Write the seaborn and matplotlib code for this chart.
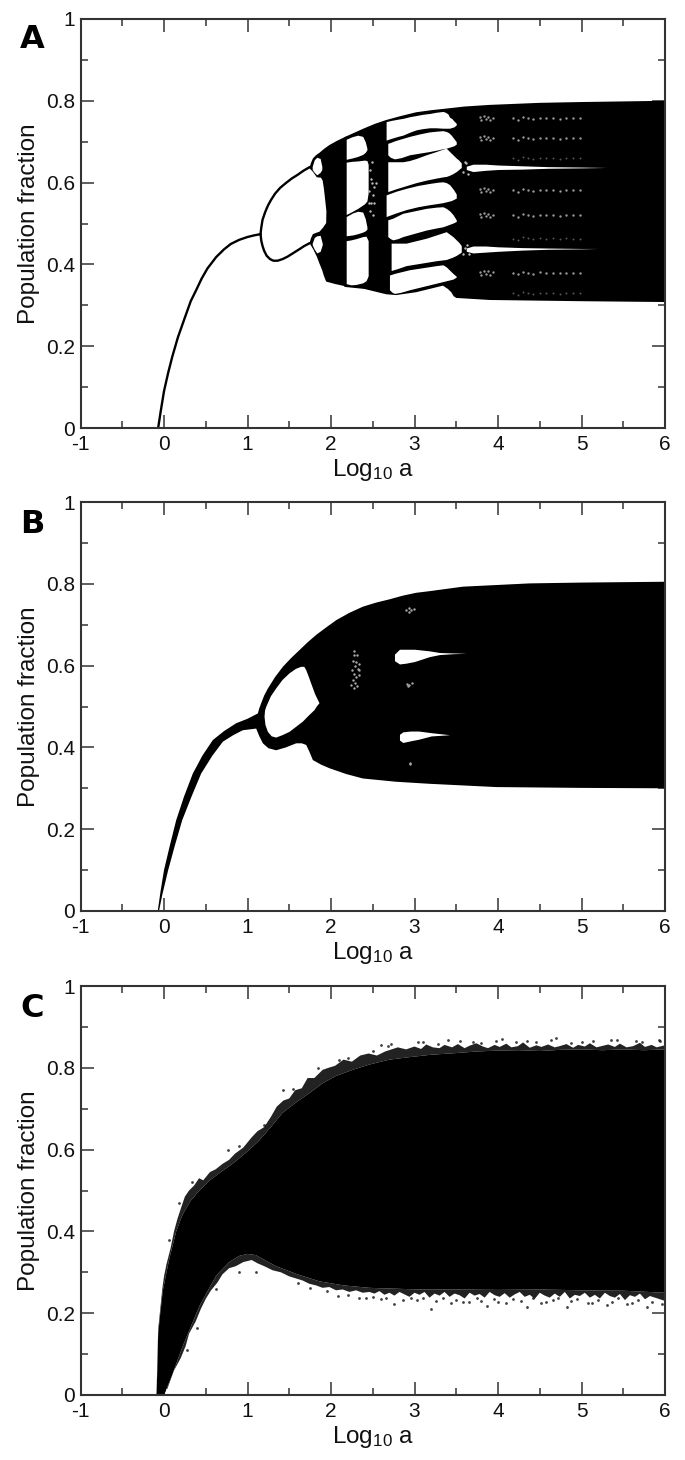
import matplotlib
matplotlib.use("Agg")
import matplotlib.pyplot as plt
import seaborn as sns

sns.set_style("ticks")
plt.rcParams['font.family'] = ['Liberation Sans', 'DejaVu Sans']
plt.rcParams['mathtext.default'] = 'regular'

X_TICKS = [-1, 0, 1, 2, 3, 4, 5, 6]
X_LABELS = ['-1', '0', '1', '2', '3', '4', '5', '6']
Y_TICKS = [0, 0.2, 0.4, 0.6, 0.8, 1]
Y_LABELS = ['0', '0.2', '0.4', '0.6', '0.8', '1']
PANELS = ['A', 'B', 'C']

# ---------- Panel A: branches ----------
a_p1_x = [-0.07, -0.04, 0.0, 0.05, 0.1, 0.167, 0.25, 0.32, 0.385, 0.45, 0.52, 0.625, 0.72, 0.8, 0.9, 1.0, 1.08, 1.156]
a_p1_y = [0.0, 0.04, 0.09, 0.135, 0.175, 0.222, 0.27, 0.31, 0.337, 0.365, 0.39, 0.418, 0.437, 0.45, 0.46, 0.467, 0.471, 0.474]
a_up_x = [1.156, 1.165, 1.18, 1.21, 1.245, 1.28, 1.33, 1.39, 1.46, 1.53, 1.6, 1.67, 1.745]
a_up_y = [0.474, 0.49, 0.509, 0.527, 0.544, 0.557, 0.573, 0.587, 0.599, 0.61, 0.619, 0.629, 0.638]
a_lo_x = [1.156, 1.165, 1.18, 1.2, 1.23, 1.27, 1.31, 1.36, 1.42, 1.48, 1.55, 1.62, 1.68, 1.745]
a_lo_y = [0.474, 0.458, 0.445, 0.433, 0.421, 0.413, 0.409, 0.409, 0.413, 0.419, 0.428, 0.437, 0.445, 0.452]

# chaotic block left of the first window
a_block_x = [1.743, 1.76, 1.783, 1.82, 1.862, 1.92, 1.982, 2.07, 2.162, 2.19, 2.19, 2.162, 2.05, 1.942, 1.915, 1.894, 1.86, 1.83, 1.79, 1.743,
             1.76, 1.783, 1.82, 1.862, 1.905, 1.942, 1.945, 1.93, 1.915, 1.90, 1.88, 1.83, 1.785, 1.743]
a_block_y = [0.637, 0.648, 0.659, 0.667, 0.673, 0.683, 0.692, 0.702, 0.711, 0.713, 0.345, 0.347, 0.352, 0.358, 0.372, 0.386, 0.403, 0.419, 0.436, 0.452,
             0.464, 0.474, 0.477, 0.48, 0.49, 0.501, 0.53, 0.558, 0.585, 0.605, 0.612, 0.613, 0.626, 0.635]

# outer envelope for the rest
a_env_x = [2.16, 2.28, 2.4, 2.53, 2.66, 2.84, 3.02, 3.2, 3.38, 3.6, 3.9, 4.5, 5.0, 6.0]
a_env_hi = [0.711, 0.722, 0.733, 0.744, 0.753, 0.763, 0.772, 0.777, 0.781, 0.786, 0.790, 0.795, 0.797, 0.800]
a_low_x = [2.16, 2.4, 2.66, 2.78, 3.02, 3.34, 3.40, 3.44, 3.47, 3.5, 3.9, 5.0, 6.0]
a_low_y = [0.345, 0.340, 0.327, 0.325, 0.332, 0.348, 0.340, 0.332, 0.322, 0.318, 0.313, 0.310, 0.308]

# white windows: (x, low, high)
a_holes = [
    ([1.775, 1.80, 1.83, 1.87, 1.89], [0.632, 0.625, 0.619, 0.625, 0.632], [0.640, 0.656, 0.662, 0.659, 0.640]),
    ([1.775, 1.80, 1.83, 1.87, 1.895], [0.448, 0.437, 0.428, 0.432, 0.448], [0.452, 0.466, 0.470, 0.471, 0.452]),
    ([2.182, 2.25, 2.32, 2.38, 2.41, 2.43], [0.657, 0.660, 0.664, 0.669, 0.674, 0.680], [0.706, 0.712, 0.716, 0.713, 0.70, 0.684]),
    ([2.182, 2.25, 2.32, 2.40, 2.43, 2.445], [0.522, 0.529, 0.537, 0.548, 0.555, 0.575], [0.650, 0.652, 0.653, 0.655, 0.654, 0.645]),
    ([2.182, 2.26, 2.32, 2.38, 2.41, 2.43], [0.470, 0.472, 0.475, 0.479, 0.482, 0.486], [0.517, 0.526, 0.530, 0.528, 0.512, 0.492]),
    ([2.182, 2.24, 2.30, 2.38, 2.42, 2.445], [0.353, 0.350, 0.351, 0.355, 0.36, 0.372], [0.458, 0.460, 0.463, 0.468, 0.469, 0.458]),
    ([2.66, 2.72, 2.80, 2.86, 2.94, 3.02, 3.10, 3.18, 3.26, 3.34, 3.37, 3.40, 3.42, 3.45, 3.47, 3.50],
     [0.704, 0.708, 0.713, 0.716, 0.723, 0.729, 0.732, 0.734, 0.734, 0.733, 0.733, 0.733, 0.733, 0.735, 0.736, 0.741],
     [0.749, 0.752, 0.755, 0.757, 0.761, 0.764, 0.767, 0.769, 0.772, 0.774, 0.772, 0.768, 0.760, 0.756, 0.751, 0.745]),
    ([2.68, 2.71, 2.76, 2.84, 2.94, 3.06, 3.18, 3.28, 3.34, 3.38, 3.41, 3.44, 3.47, 3.50],
     [0.668, 0.662, 0.658, 0.661, 0.668, 0.672, 0.676, 0.680, 0.683, 0.684, 0.686, 0.688, 0.690, 0.694],
     [0.696, 0.698, 0.702, 0.707, 0.713, 0.719, 0.724, 0.726, 0.727, 0.725, 0.722, 0.716, 0.708, 0.700]),
    ([2.68, 2.78, 2.86, 2.94, 3.02, 3.14, 3.26, 3.34, 3.38, 3.42, 3.46, 3.50, 3.53, 3.56],
     [0.578, 0.585, 0.590, 0.595, 0.600, 0.606, 0.611, 0.614, 0.615, 0.618, 0.622, 0.627, 0.632, 0.637],
     [0.651, 0.651, 0.651, 0.654, 0.659, 0.668, 0.676, 0.682, 0.684, 0.676, 0.668, 0.660, 0.655, 0.648]),
    ([2.66, 2.78, 2.90, 3.04, 3.18, 3.28, 3.34, 3.38, 3.42, 3.44, 3.47, 3.50],
     [0.517, 0.526, 0.534, 0.541, 0.546, 0.549, 0.551, 0.553, 0.555, 0.556, 0.559, 0.562],
     [0.570, 0.579, 0.586, 0.593, 0.598, 0.601, 0.602, 0.600, 0.595, 0.590, 0.582, 0.572]),
    ([2.68, 2.71, 2.74, 2.80, 2.86, 3.0, 3.14, 3.26, 3.34, 3.38, 3.42, 3.46, 3.50],
     [0.468, 0.463, 0.460, 0.463, 0.468, 0.476, 0.484, 0.489, 0.492, 0.495, 0.498, 0.501, 0.505],
     [0.509, 0.511, 0.513, 0.519, 0.525, 0.531, 0.537, 0.540, 0.541, 0.537, 0.531, 0.522, 0.509]),
    ([2.72, 2.80, 2.90, 3.02, 3.14, 3.26, 3.38, 3.42, 3.46, 3.50, 3.53, 3.56],
     [0.385, 0.390, 0.397, 0.401, 0.405, 0.409, 0.412, 0.415, 0.418, 0.422, 0.426, 0.430],
     [0.452, 0.452, 0.452, 0.458, 0.464, 0.472, 0.480, 0.474, 0.468, 0.460, 0.454, 0.446]),
    ([2.70, 2.73, 2.76, 2.84, 2.94, 3.1, 3.26, 3.34, 3.38, 3.42, 3.46, 3.50],
     [0.338, 0.332, 0.329, 0.332, 0.338, 0.346, 0.354, 0.358, 0.360, 0.362, 0.364, 0.369],
     [0.374, 0.376, 0.378, 0.382, 0.387, 0.392, 0.397, 0.399, 0.394, 0.386, 0.378, 0.371]),
    ([3.62, 3.70, 3.85, 4.0, 4.3, 4.6, 5.0, 5.3],
     [0.632, 0.627, 0.630, 0.632, 0.633, 0.635, 0.636, 0.637],
     [0.640, 0.645, 0.645, 0.643, 0.641, 0.639, 0.638, 0.637]),
    ([3.62, 3.70, 3.85, 4.0, 4.3, 4.6, 5.0, 5.2],
     [0.432, 0.428, 0.430, 0.432, 0.435, 0.437, 0.438, 0.439],
     [0.440, 0.445, 0.445, 0.443, 0.441, 0.440, 0.439, 0.439]),
]

# white speckles in panel A
a_dust_x = [3.78, 3.80, 3.83, 3.86, 3.88, 3.91, 3.94, 4.18, 4.24, 4.30, 4.36, 4.42, 4.50, 4.58, 4.66, 4.74, 4.82, 4.90, 4.98]
a_dust_dy = [0.003, -0.005, 0.006, -0.002, 0.004, -0.004, 0.002, 0.0, -0.003, 0.003, 0.001, -0.002, 0.002, 0.0, 0.001, -0.001, 0.001, 0.0, 0.0]
a_dust_rows = [0.757, 0.708, 0.581, 0.520, 0.379]
a_faint_rows = [0.659, 0.463, 0.329]
a_sp_x = [2.47, 2.49, 2.46, 2.50, 2.48, 2.52, 2.47, 2.50, 2.54, 2.48, 2.51, 2.46, 2.49, 3.60, 3.64, 3.58, 3.62, 3.60, 3.65, 3.58, 3.63]
a_sp_y = [0.63, 0.60, 0.58, 0.57, 0.55, 0.59, 0.53, 0.52, 0.60, 0.61, 0.55, 0.55, 0.65, 0.650, 0.622, 0.625, 0.648, 0.440, 0.425, 0.425, 0.448]

# ---------- Panel B ----------
b_outer_x = [-0.075, -0.04, 0.0, 0.07, 0.146, 0.24, 0.345, 0.46, 0.585, 0.72, 0.864, 1.0, 1.124, 1.14, 1.164, 1.2, 1.244, 1.33, 1.423, 1.52, 1.623, 1.72, 1.822, 1.94, 2.062, 2.22, 2.381,
             2.54, 2.70, 2.86, 3.02, 3.18, 3.58, 4.38, 5.0, 6.0, 6.0, 5.0, 3.98, 3.18, 2.78, 2.381, 2.18, 1.982, 1.88, 1.783, 1.74, 1.703, 1.65, 1.583, 1.46,
             1.343, 1.25, 1.184, 1.14, 1.104, 0.944, 0.83, 0.705, 0.58, 0.445, 0.33, 0.218, 0.13, 0.05, -0.02, -0.06]
b_outer_y = [0.0, 0.05, 0.10, 0.16, 0.222, 0.28, 0.336, 0.38, 0.418, 0.44, 0.459, 0.47, 0.483, 0.495, 0.508, 0.527, 0.544, 0.572, 0.597, 0.618, 0.638, 0.657, 0.675, 0.693, 0.711, 0.729, 0.744,
             0.754, 0.762, 0.771, 0.778, 0.782, 0.793, 0.801, 0.803, 0.805, 0.300, 0.301, 0.303, 0.311, 0.316, 0.324, 0.335, 0.349, 0.358, 0.369, 0.39, 0.406, 0.41, 0.410, 0.40,
             0.393, 0.398, 0.410, 0.428, 0.446, 0.442, 0.43, 0.414, 0.38, 0.336, 0.28, 0.222, 0.16, 0.10, 0.04, 0.0]
b_hole_x = [1.204, 1.21, 1.224, 1.28, 1.343, 1.42, 1.503, 1.58, 1.643, 1.68, 1.703, 1.735, 1.763, 1.81, 1.862, 1.83, 1.802, 1.73, 1.663, 1.58, 1.503, 1.42, 1.343, 1.29, 1.244, 1.215]
b_hole_y = [0.475, 0.49, 0.499, 0.525, 0.544, 0.565, 0.581, 0.592, 0.597, 0.597, 0.589, 0.572, 0.556, 0.53, 0.508, 0.50, 0.491, 0.477, 0.463, 0.45, 0.438, 0.43, 0.424, 0.427, 0.438, 0.455]
b_streaks = [
    ([2.76, 2.82, 2.90, 3.0, 3.18, 3.3, 3.45, 3.62],
     [0.612, 0.604, 0.606, 0.610, 0.622, 0.627, 0.629, 0.630],
     [0.628, 0.640, 0.640, 0.640, 0.636, 0.632, 0.631, 0.630]),
    ([2.82, 2.86, 2.95, 3.05, 3.2, 3.42],
     [0.418, 0.412, 0.416, 0.420, 0.428, 0.431],
     [0.432, 0.438, 0.440, 0.440, 0.436, 0.431]),
]
b_dust_x = [2.28, 2.31, 2.26, 2.33, 2.29, 2.25, 2.32, 2.27, 2.30, 2.34, 2.26, 2.29, 2.24, 2.31, 2.28, 2.33, 2.30, 2.27,
            2.90, 2.93, 2.96, 2.94, 2.99, 2.91, 2.94, 2.97, 2.92, 2.95, 2.95]
b_dust_y = [0.635, 0.625, 0.612, 0.605, 0.600, 0.590, 0.592, 0.580, 0.572, 0.578, 0.565, 0.558, 0.552, 0.550, 0.625, 0.59, 0.61, 0.545,
            0.735, 0.741, 0.736, 0.731, 0.739, 0.556, 0.552, 0.558, 0.550, 0.362, 0.359]

# ---------- Panel C ----------
c_up_x = [-0.09, -0.08, -0.07, -0.05, -0.015, 0.03, 0.066, 0.146, 0.22, 0.32, 0.425, 0.55, 0.68, 0.82, 0.98, 1.14, 1.28, 1.42, 1.58, 1.74, 1.90, 2.06,
          2.26, 2.46, 2.70, 2.94, 3.2, 3.5, 3.75, 4.0, 4.25, 4.5, 4.75, 5.0, 5.25, 5.5, 5.75, 6.0]
c_up_y = [0.0, 0.06, 0.148, 0.19, 0.254, 0.30, 0.335, 0.400, 0.440, 0.475, 0.500, 0.525, 0.545, 0.565, 0.592, 0.622, 0.655, 0.690, 0.715, 0.738, 0.762, 0.780,
          0.795, 0.808, 0.820, 0.826, 0.832, 0.836, 0.840, 0.842, 0.843, 0.841, 0.844, 0.845, 0.843, 0.845, 0.843, 0.845]
c_lo_x = [-0.09, 0.0, 0.09, 0.225, 0.425, 0.625, 0.78, 0.90, 1.0, 1.1, 1.34, 1.6, 1.86, 2.15, 2.46, 3.06, 3.5, 4.0, 4.5, 5.0, 5.5, 6.0]
c_lo_y = [0.0, 0.0, 0.045, 0.120, 0.218, 0.292, 0.325, 0.340, 0.345, 0.342, 0.315, 0.295, 0.278, 0.268, 0.262, 0.258, 0.258, 0.257, 0.258, 0.256, 0.255, 0.250]

# rough outer edge of the dotted fringe
c_top_edge_x = [-0.07, -0.05, -0.02, 0.0, 0.03, 0.08, 0.12, 0.16, 0.2, 0.25, 0.3, 0.36, 0.42, 0.47, 0.55, 0.62, 0.7, 0.78, 0.85, 0.95,
                1.05, 1.12, 1.2, 1.28, 1.35, 1.43, 1.5, 1.57, 1.65, 1.72, 1.8, 1.9, 1.97, 2.05, 2.15, 2.25, 2.35, 2.45, 2.55, 2.65, 2.8, 2.9,
                3.0, 3.08, 3.14, 3.22, 3.3, 3.36, 3.45, 3.52, 3.6, 3.66, 3.74, 3.82, 3.88, 3.96, 4.02, 4.1, 4.16, 4.24, 4.3, 4.38, 4.46, 4.52,
                4.6, 4.68, 4.74, 4.82, 4.9, 4.96, 5.04, 5.1, 5.18, 5.26, 5.32, 5.4, 5.46, 5.54, 5.62, 5.7, 5.76, 5.84, 5.9, 6.0]
c_top_edge_y = [0.16, 0.20, 0.26, 0.29, 0.32, 0.36, 0.40, 0.43, 0.455, 0.485, 0.50, 0.512, 0.53, 0.525, 0.545, 0.552, 0.565, 0.575, 0.59, 0.605,
                0.63, 0.645, 0.655, 0.68, 0.705, 0.72, 0.725, 0.745, 0.75, 0.775, 0.775, 0.795, 0.80, 0.805, 0.82, 0.815, 0.83, 0.835, 0.83, 0.84, 0.85, 0.845,
                0.852, 0.846, 0.857, 0.85, 0.848, 0.856, 0.85, 0.858, 0.848, 0.854, 0.86, 0.852, 0.848, 0.856, 0.851, 0.859, 0.85, 0.853, 0.862, 0.849, 0.855, 0.851,
                0.857, 0.85, 0.853, 0.858, 0.849, 0.856, 0.852, 0.86, 0.85, 0.854, 0.857, 0.851, 0.859, 0.85, 0.853, 0.861, 0.851, 0.856, 0.85, 0.855]
c_bot_edge_x = [0.04, 0.12, 0.2, 0.26, 0.3, 0.38, 0.44, 0.5, 0.56, 0.64, 0.7, 0.78, 0.86, 0.95, 1.05, 1.12, 1.2, 1.3, 1.4, 1.5, 1.58, 1.66, 1.74, 1.82, 1.9, 1.98, 2.06, 2.14, 2.22, 2.3, 2.38, 2.46,
                2.52, 2.58, 2.64, 2.7, 2.76, 2.82, 2.88, 2.94, 3.0, 3.06, 3.12, 3.18, 3.24, 3.3, 3.36, 3.42, 3.48, 3.54, 3.6, 3.66, 3.72, 3.78, 3.84, 3.9, 3.96, 4.02, 4.08, 4.14,
                4.2, 4.26, 4.32, 4.38, 4.44, 4.5, 4.56, 4.62, 4.68, 4.74, 4.8, 4.86, 4.92, 4.98, 5.04, 5.1, 5.16, 5.22, 5.28, 5.34, 5.4, 5.46, 5.52, 5.58, 5.64, 5.7, 5.76, 5.82, 5.88, 6.0]
c_bot_edge_y = [0.015, 0.06, 0.09, 0.12, 0.15, 0.18, 0.21, 0.235, 0.255, 0.275, 0.295, 0.31, 0.315, 0.325, 0.33, 0.322, 0.315, 0.305, 0.30, 0.29, 0.285, 0.28, 0.272, 0.268, 0.262, 0.264, 0.256, 0.258, 0.252, 0.256, 0.25, 0.252,
                0.248, 0.254, 0.245, 0.25, 0.243, 0.252, 0.246, 0.24, 0.25, 0.245, 0.252, 0.238, 0.248, 0.243, 0.252, 0.24, 0.248, 0.244, 0.236, 0.25, 0.243, 0.247, 0.238, 0.252, 0.244, 0.24, 0.249, 0.238,
                0.246, 0.252, 0.24, 0.245, 0.235, 0.25, 0.243, 0.238, 0.248, 0.24, 0.252, 0.236, 0.245, 0.242, 0.25, 0.238, 0.245, 0.236, 0.25, 0.242, 0.238, 0.247, 0.232, 0.244, 0.24, 0.248, 0.234, 0.242, 0.238, 0.23]
# stray points beyond the fringe
c_stray_x = [3.04, 3.4, 3.7, 4.05, 4.35, 4.7, 5.0, 5.35, 5.65, 5.93, 2.68, 0.06, 0.18, 0.33, 0.77, 1.42, 2.1, 2.6,
             1.6, 2.08, 2.33, 2.6, 2.75, 3.03, 3.2, 3.44, 3.65, 3.87, 4.1, 4.35, 4.58, 4.83, 5.08, 5.3, 5.55, 5.78, 0.28, 0.4, 0.62, 0.9, 1.1,
             1.75, 1.95, 2.2, 2.42, 2.5, 2.66, 2.86, 2.96, 3.1, 3.26, 3.34, 3.5, 3.58, 3.75, 3.8, 3.95, 4.0, 4.18, 4.28, 4.42, 4.52, 4.66, 4.72, 4.88, 4.95, 5.12, 5.2, 5.36, 5.44, 5.6, 5.68, 5.85, 5.97,
             0.9, 1.2, 1.55, 1.85, 2.2, 2.5, 2.72, 3.1, 3.28, 3.55, 3.8, 3.98, 4.22, 4.46, 4.64, 4.88, 5.14, 5.42, 5.72, 5.94]
c_stray_y = [0.864, 0.868, 0.862, 0.87, 0.866, 0.872, 0.864, 0.869, 0.866, 0.868, 0.853, 0.38, 0.47, 0.52, 0.60, 0.745, 0.82, 0.855,
             0.275, 0.243, 0.238, 0.235, 0.222, 0.232, 0.21, 0.225, 0.228, 0.218, 0.226, 0.216, 0.228, 0.215, 0.226, 0.219, 0.222, 0.216, 0.11, 0.165, 0.26, 0.30, 0.30,
             0.262, 0.255, 0.244, 0.238, 0.24, 0.236, 0.232, 0.238, 0.236, 0.23, 0.237, 0.233, 0.228, 0.236, 0.23, 0.235, 0.228, 0.234, 0.229, 0.236, 0.226, 0.232, 0.237, 0.229, 0.234, 0.226, 0.233, 0.228, 0.236, 0.225, 0.232, 0.228, 0.222,
             0.61, 0.66, 0.748, 0.80, 0.825, 0.842, 0.858, 0.862, 0.858, 0.865, 0.86, 0.866, 0.862, 0.864, 0.867, 0.861, 0.865, 0.867, 0.862, 0.866]


def fill_black(ax, xs, ys):
    ax.fill(xs, ys, color='black', lw=0, zorder=2)


def fill_white(ax, xs, ys):
    ax.fill(xs, ys, color='white', lw=0, zorder=3)


def dots(ax, xs, ys, color, size, alpha=1.0, z=4):
    sns.scatterplot(x=xs, y=ys, ax=ax, color=color, s=size, linewidth=0, marker='o',
                    alpha=alpha, legend=False, zorder=z)


def branch(ax, xs, ys):
    sns.lineplot(x=xs, y=ys, ax=ax, color='black', linewidth=1.7, sort=False,
                 estimator=None, errorbar=None, legend=False, zorder=2)


fig = plt.figure(figsize=(6.85, 14.60), dpi=100)
W, H = 685.0, 1460.0
tops = [19, 502, 986]
axes = []
for t, letter, ly in zip(tops, PANELS, [48, 533, 1017]):
    ax = fig.add_axes([80.5 / W, 1 - (t + 409) / H, 584.5 / W, 409 / H])
    axes.append(ax)
    ax.set_xlim(-1, 6)
    ax.set_ylim(0, 1)
    ax.set_xticks(X_TICKS, X_LABELS)
    ax.set_yticks(Y_TICKS, Y_LABELS)
    ax.set_xticks([-0.5, 0.5, 1.5, 2.5, 3.5, 4.5, 5.5], minor=True)
    ax.set_yticks([0.1, 0.3, 0.5, 0.7, 0.9], minor=True)
    ax.tick_params(which='major', direction='in', length=9.4, width=1.1, color='#333333',
                   top=True, right=True, labelsize=15, labelcolor='#111111')
    ax.tick_params(which='minor', direction='in', length=5, width=1.1, color='#333333', top=True, right=True)
    ax.tick_params(axis='x', pad=5)
    ax.tick_params(axis='y', pad=4)
    for s in ax.spines.values():
        s.set_linewidth(1.5)
        s.set_color('#333333')
        s.set_zorder(6)
    ax.set_xlabel('Log$_{10}$ a', fontsize=17.5, labelpad=2, color='#111111')
    ax.set_ylabel('Population fraction', fontsize=17.5, labelpad=4, color='#111111')
    fig.text(20 / W, 1 - ly / H, letter, family='DejaVu Sans', fontweight='bold', fontsize=23, color='black')

# Panel A
ax = axes[0]
branch(ax, a_p1_x, a_p1_y)
branch(ax, a_up_x, a_up_y)
branch(ax, a_lo_x, a_lo_y)
fill_black(ax, a_block_x, a_block_y)
fill_black(ax, a_env_x + a_low_x[::-1], a_env_hi + a_low_y[::-1])
for hx, hlo, hhi in a_holes:
    ax.fill_between(hx, hlo, hhi, color='white', lw=0, zorder=3)
xs, ys = [], []
for row in a_dust_rows:
    xs += a_dust_x
    ys += [row + d for d in a_dust_dy]
dots(ax, xs, ys, '#999999', 3)
xs, ys = [], []
for row in a_faint_rows:
    xs += a_dust_x[7:]
    ys += [row + d for d in a_dust_dy[7:]]
dots(ax, xs, ys, '#555555', 2)
dots(ax, a_sp_x, a_sp_y, '#bbbbbb', 3)

# Panel B
ax = axes[1]
fill_black(ax, b_outer_x, b_outer_y)
fill_white(ax, b_hole_x, b_hole_y)
for hx, hlo, hhi in b_streaks:
    ax.fill_between(hx, hlo, hhi, color='white', lw=0, zorder=3)
dots(ax, b_dust_x, b_dust_y, '#aaaaaa', 3)

# Panel C
ax = axes[2]
fill_black(ax, c_up_x + [6.0] + c_lo_x[::-1], c_up_y + [0.25] + c_lo_y[::-1])
ax.fill(c_top_edge_x + c_up_x[::-1], c_top_edge_y + c_up_y[::-1], color='#222222', lw=0, zorder=1.5)
ax.fill(c_bot_edge_x + c_lo_x[::-1], c_bot_edge_y + c_lo_y[::-1], color='#222222', lw=0, zorder=1.5)
dots(ax, c_stray_x, c_stray_y, 'black', 4, 0.75)

fig.savefig('out.png', dpi=100)
